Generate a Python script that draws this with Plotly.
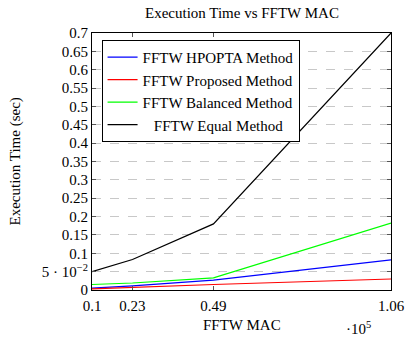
import plotly.graph_objects as go

x_vals = [0.1, 0.23, 0.49, 1.06]
hpopta = [0.005, 0.011, 0.027, 0.082]
proposed = [0.003, 0.007, 0.015, 0.030]
balanced = [0.015, 0.019, 0.033, 0.182]
equal = [0.050, 0.083, 0.180, 0.700]

x_ticks = [0.1, 0.23, 0.49, 1.06]
x_tick_text = ["0.1", "0.23", "0.49", "1.06"]
y_ticks = [0, 0.05, 0.1, 0.15, 0.2, 0.25, 0.3, 0.35, 0.4, 0.45, 0.5, 0.55, 0.6, 0.65, 0.7]
y_tick_text = ["0", "5 · 10<sup>−2</sup>", "0.1", "0.15", "0.2", "0.25", "0.3", "0.35",
               "0.4", "0.45", "0.5", "0.55", "0.6", "0.65", "0.7"]

FONT = "Liberation Serif, Times New Roman, serif"
FS = 15

fig = go.Figure()
series = [
    ("FFTW HPOPTA Method", hpopta, "#0000ff"),
    ("FFTW Proposed Method", proposed, "#ff0000"),
    ("FFTW Balanced Method", balanced, "#00ff00"),
    ("&nbsp;&nbsp;&nbsp;FFTW Equal Method", equal, "#000000"),
]
for name, ys, col in series:
    fig.add_trace(go.Scatter(x=x_vals, y=ys, mode="lines", name=name,
                             line=dict(color=col, width=1.2)))

fig.update_layout(
    width=417, height=340,
    margin=dict(l=92, r=14, t=33, b=50),
    paper_bgcolor="white", plot_bgcolor="white",
    font=dict(family=FONT, size=FS, color="black"),
    showlegend=True,
    legend=dict(x=0.032, y=0.973, xanchor="left", yanchor="top",
                bordercolor="black", borderwidth=1, bgcolor="white",
                font=dict(family=FONT, size=FS), tracegroupgap=0,
                itemwidth=30),
    xaxis=dict(range=[0.1, 1.06], tickvals=x_ticks, ticktext=x_tick_text,
               showgrid=False, zeroline=False, showline=True, linecolor="black",
               linewidth=1, mirror="allticks", ticks="inside", ticklen=4,
               tickcolor="#555", tickfont=dict(family=FONT, size=FS),
               ticklabelstandoff=2),
    yaxis=dict(range=[0, 0.7], tickvals=y_ticks, ticktext=y_tick_text,
               showgrid=True, gridcolor="#c8c8c8", griddash="dash", gridwidth=1,
               zeroline=False, showline=True, linecolor="black", linewidth=1,
               mirror="allticks", ticks="inside", ticklen=4, tickcolor="#555",
               tickfont=dict(family=FONT, size=FS)),
    annotations=[
        dict(text="Execution Time vs FFTW MAC", xref="paper", yref="paper",
             x=0.5, y=1, yshift=20, showarrow=False, xanchor="center", yanchor="middle",
             font=dict(family=FONT, size=FS)),
        dict(text="FFTW MAC", xref="paper", yref="paper", x=0.5, y=0, yshift=-35,
             showarrow=False, xanchor="center", yanchor="middle",
             font=dict(family=FONT, size=FS)),
        dict(text="·10<sup>5</sup>", xref="paper", yref="paper", x=0.89, y=0, yshift=-38,
             showarrow=False, xanchor="center", yanchor="middle",
             font=dict(family=FONT, size=FS)),
        dict(text="Execution Time (sec)", xref="paper", yref="paper", x=0, xshift=-77,
             y=0.5, textangle=-90, showarrow=False, xanchor="center", yanchor="middle",
             font=dict(family=FONT, size=FS)),
    ],
)

fig.write_html("out.html", config={"displayModeBar": False},
               post_script="document.body.style.margin='0';document.body.style.padding='0';")
